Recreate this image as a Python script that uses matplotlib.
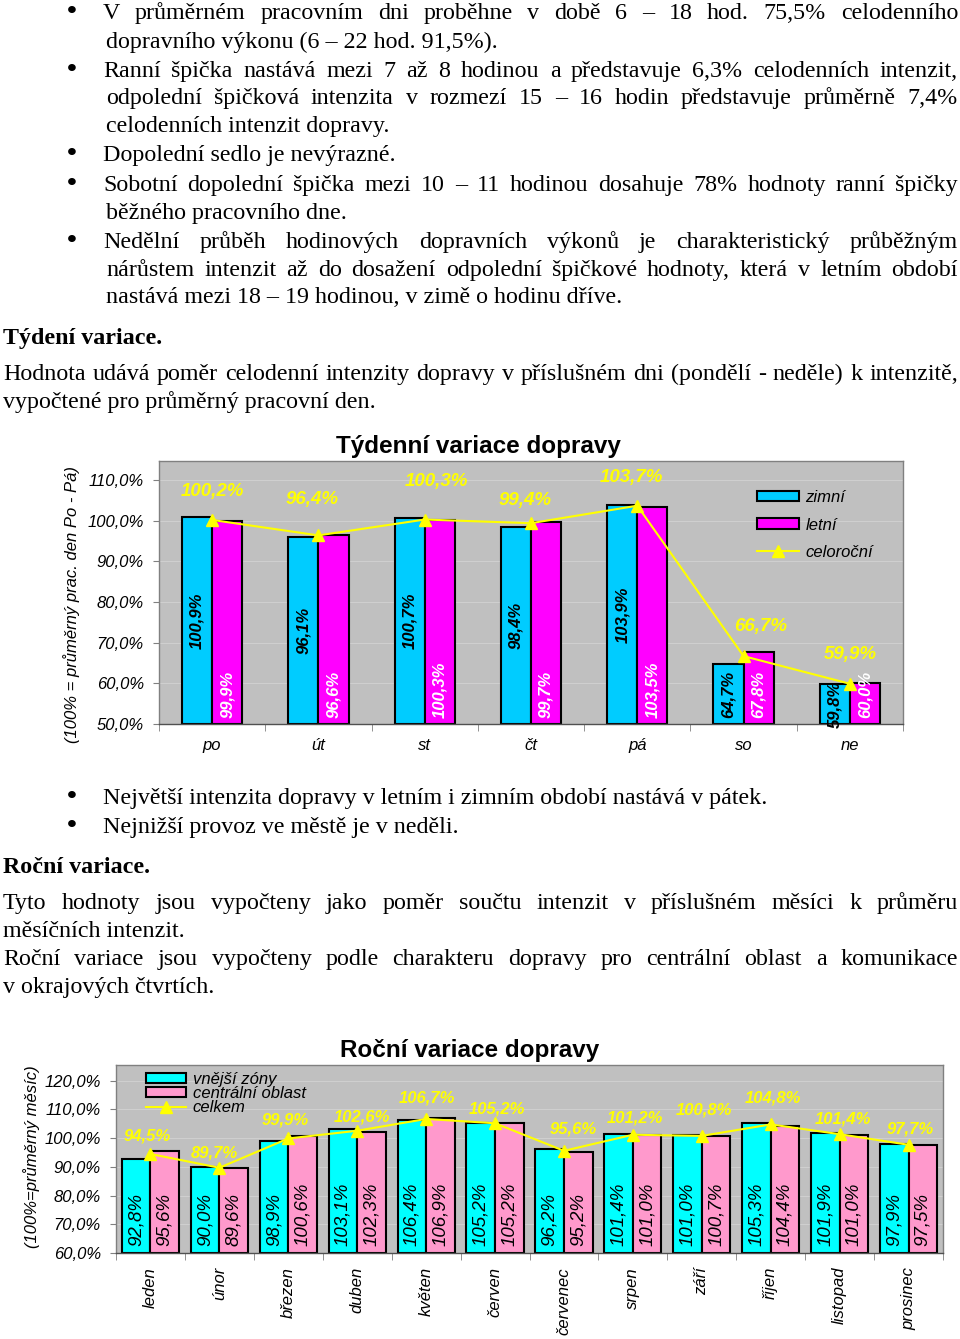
import numpy as np
import matplotlib
matplotlib.use('Agg')
import matplotlib.pyplot as plt
from matplotlib.patches import Patch
from matplotlib.lines import Line2D
from matplotlib.ticker import FuncFormatter, MultipleLocator

W, H = 960, 1339

# tydenni variace
dny = ['po', 'út', 'st', 'čt', 'pá', 'so', 'ne']
zimni = [100.9, 96.1, 100.7, 98.4, 103.9, 64.7, 59.8]
letni = [99.9, 96.6, 100.3, 99.7, 103.5, 67.8, 60.0]
celorocni = [100.2, 96.4, 100.3, 99.4, 103.7, 66.7, 59.9]

# rocni variace
mesice = ['leden', 'únor', 'březen', 'duben', 'květen', 'červen', 'červenec',
          'srpen', 'září', 'říjen', 'listopad', 'prosinec']
vnejsi = [92.8, 90.0, 98.9, 103.1, 106.4, 105.2, 96.2, 101.4, 101.0, 105.3, 101.9, 97.9]
centralni = [95.6, 89.6, 100.6, 102.3, 106.9, 105.2, 95.2, 101.0, 100.7, 104.4, 101.0, 97.5]
celkem = [94.5, 89.7, 99.9, 102.6, 106.7, 105.2, 95.6, 101.2, 100.8, 104.8, 101.4, 97.7]

# posuny popisku (px)
tyd_dx = [0, -6, 12, -6, -6, 17, 0]
tyd_dy = [28, 36, 38, 23, 28, 30, 29]
roc_dx = [-3, -5, -3, 5, 1, 2, 9, 2, 2, 2, 3, 2]
roc_dy = [18, 15, 18, 14, 21, 14, 22, 17, 26, 26, 15, 16]

SERIF = 'Liberation Serif'
SANS = 'Liberation Sans'
BODY = 17.3


def fx(px):
    return px / W


def fy(py):
    return 1 - py / H


def pct(v):
    return ('%.1f%%' % v).replace('.', ',')


fig = plt.figure(figsize=(W / 100, H / 100), dpi=100)
fig.patch.set_facecolor('white')
renderer = fig.canvas.get_renderer()


def radek(s, x0, y, x1=None, bold=False, bullet=False):
    kw = dict(family=SERIF, fontsize=BODY, va='baseline',
              weight='bold' if bold else 'normal')
    if bullet:
        fig.text(fx(72), fy(y), '•', ha='center', family=SERIF, fontsize=BODY + 3,
                 va='baseline', weight='bold')
    if x1 is None:
        fig.text(fx(x0), fy(y), s, ha='left', **kw)
        return
    slova = s.split()
    texty = [fig.text(0, fy(y), w, ha='left', **kw) for w in slova]
    sirky = [t.get_window_extent(renderer=renderer).width for t in texty]
    mezera = (x1 - x0 - sum(sirky)) / (len(slova) - 1)
    x = x0
    for t, w in zip(texty, sirky):
        t.set_x(fx(x))
        x += w + mezera


J = 958
radek('V průměrném pracovním dni proběhne v době 6 – 18 hod. 75,5% celodenního', 103, 19, J, bullet=True)
radek('dopravního výkonu (6 – 22 hod. 91,5%).', 106, 48)
radek('Ranní špička nastává mezi 7 až 8 hodinou a představuje 6,3% celodenních intenzit,', 103, 77, J, bullet=True)
radek('odpolední špičková intenzita v rozmezí 15 – 16 hodin  představuje průměrně 7,4%', 106, 104, J)
radek('celodenních intenzit dopravy.', 106, 132)
radek('Dopolední sedlo je nevýrazné.', 103, 161, bullet=True)
radek('Sobotní dopolední špička mezi 10 – 11 hodinou dosahuje 78% hodnoty ranní špičky', 103, 191, J, bullet=True)
radek('běžného pracovního dne.', 106, 219)
radek('Nedělní průběh hodinových dopravních výkonů je charakteristický průběžným', 103, 248, J, bullet=True)
radek('nárůstem intenzit až do dosažení odpolední špičkové hodnoty, která v letním  období', 106, 276, J)
radek('nastává mezi 18 – 19 hodinou, v zimě o hodinu dříve.', 106, 303)
radek('Týdení variace.', 3, 344, bold=True)
radek('Hodnota udává poměr celodenní intenzity dopravy v příslušném dni (pondělí - neděle) k intenzitě,', 3, 380, J)
radek('vypočtené pro průměrný pracovní den.', 3, 408)

radek('Největší intenzita dopravy v letním i zimním období nastává v pátek.', 103, 804, bullet=True)
radek('Nejnižší provoz ve městě je v neděli.', 103, 833, bullet=True)
radek('Roční variace.', 3, 873, bold=True)
radek('Tyto hodnoty jsou vypočteny jako poměr součtu intenzit v příslušném měsíci k  průměru', 3, 909, J)
radek('měsíčních intenzit.', 3, 937)
radek('Roční variace jsou vypočteny podle charakteru dopravy pro centrální oblast a komunikace', 3, 965, J)
radek('v okrajových čtvrtích.', 3, 993)


def priprav_osu(ax, n, ymin, ymax, pad):
    ax.set_facecolor('#C0C0C0')
    ax.set_xlim(-0.5, n - 0.5)
    ax.set_ylim(ymin, ymax)
    ax.yaxis.set_major_locator(MultipleLocator(10))
    ax.yaxis.set_major_formatter(FuncFormatter(lambda v, _: pct(v)))
    ax.grid(axis='y', color='#CFCFCF', lw=0.8)
    ax.set_axisbelow(True)
    for s in ax.spines.values():
        s.set_color('#808080')
        s.set_linewidth(1.0)
    ax.spines['bottom'].set_color('#505050')
    ax.set_xticks(np.arange(n))
    ax.set_xticks(np.arange(n + 1) - 0.5, minor=True)
    ax.tick_params(axis='x', which='major', length=0, pad=pad)
    ax.tick_params(axis='x', which='minor', length=5, color='#808080')
    ax.tick_params(axis='y', length=4, color='#808080', pad=7)


def styl_y(ax):
    for t in ax.get_yticklabels():
        t.set_family(SANS)
        t.set_style('italic')
        t.set_fontsize(12)


# ---------------- tydenni graf ----------------
ax1 = fig.add_axes([fx(159), fy(724), (903 - 159) / W, (724 - 461) / H])
priprav_osu(ax1, 7, 50, 114.7, 10)
x = np.arange(len(dny))
bw = 0.283
ax1.bar(x - bw / 2, [v - 50 for v in zimni], bw, bottom=50, color='#00CCFF', edgecolor='black', lw=1.5, zorder=2)
ax1.bar(x + bw / 2, [v - 50 for v in letni], bw, bottom=50, color='#FF00FF', edgecolor='black', lw=1.5, zorder=2)
ax1.plot(x, celorocni, color='#FFFF00', lw=1.5, marker='^', ms=9, mec='#FFFF00', zorder=4)
ax1.set_xticklabels(dny, family=SANS, style='italic', fontsize=12)
styl_y(ax1)
for i in range(len(dny)):
    ax1.text(x[i] - bw / 2, (50 + zimni[i]) / 2, pct(zimni[i]), rotation=90, ha='center', va='center',
             family=SANS, style='italic', weight='bold', fontsize=12, color='black', zorder=5)
    ax1.annotate(pct(letni[i]), (x[i] + bw / 2, 50), xytext=(0, 6), textcoords='offset pixels',
                 rotation=90, ha='center', va='bottom', family=SANS, style='italic', weight='bold',
                 fontsize=12, color='white', zorder=5)
    ax1.annotate(pct(celorocni[i]), (x[i], celorocni[i]), xytext=(tyd_dx[i], tyd_dy[i]),
                 textcoords='offset pixels', ha='center', va='center', family=SANS, style='italic',
                 weight='bold', fontsize=13.5, color='#FFFF00', zorder=5)
ax1.legend(handles=[Patch(facecolor='#00CCFF', edgecolor='black', lw=1.5, label='zimní'),
                    Patch(facecolor='#FF00FF', edgecolor='black', lw=1.5, label='letní'),
                    Line2D([], [], color='#FFFF00', lw=1.5, marker='^', ms=9, label='celoroční')],
           loc='upper left', bbox_to_anchor=((757 - 159) / 744, (724 - 490) / 263),
           frameon=False, borderpad=0, borderaxespad=0, handlelength=2.5, handleheight=0.6,
           handletextpad=0.4, labelspacing=0.75, prop=dict(family=SANS, style='italic', size=12))
fig.text(fx(478), fy(447), 'Týdenní variace dopravy', ha='center', va='center',
         family=SANS, weight='bold', fontsize=17.5)
fig.text(fx(72), fy(605), '(100% = průměrný prac. den Po - Pá)', rotation=90, ha='center', va='center',
         family=SANS, style='italic', fontsize=12)

# ---------------- rocni graf ----------------
ax2 = fig.add_axes([fx(116), fy(1253), (943 - 116) / W, (1253 - 1065) / H])
priprav_osu(ax2, 12, 60, 125.5, 10)
x2 = np.arange(len(mesice))
bw2 = 0.415
ax2.bar(x2 - bw2 / 2, [v - 60 for v in vnejsi], bw2, bottom=60, color='#00FFFF', edgecolor='black', lw=1.5, zorder=2)
ax2.bar(x2 + bw2 / 2, [v - 60 for v in centralni], bw2, bottom=60, color='#FF99CC', edgecolor='black', lw=1.5, zorder=2)
ax2.plot(x2, celkem, color='#FFFF00', lw=1.5, marker='^', ms=9, mec='#FFFF00', zorder=4)
ax2.set_xticklabels(mesice, rotation=90, va='top', ha='center', family=SANS, style='italic', fontsize=12)
styl_y(ax2)
for i in range(len(mesice)):
    for xx, v in ((x2[i] - bw2 / 2, vnejsi[i]), (x2[i] + bw2 / 2, centralni[i])):
        ax2.annotate(pct(v), (xx, 60), xytext=(0, 7), textcoords='offset pixels', rotation=90,
                     ha='center', va='bottom', family=SANS, style='italic', fontsize=13.5,
                     color='black', zorder=5)
    ax2.annotate(pct(celkem[i]), (x2[i], celkem[i]), xytext=(roc_dx[i], roc_dy[i]),
                 textcoords='offset pixels', ha='center', va='center', family=SANS, style='italic',
                 weight='bold', fontsize=12, color='#FFFF00', zorder=5)
ax2.legend(handles=[Patch(facecolor='#00FFFF', edgecolor='black', lw=1.5, label='vnější zóny'),
                    Patch(facecolor='#FF99CC', edgecolor='black', lw=1.5, label='centrální oblast'),
                    Line2D([], [], color='#FFFF00', lw=1.5, marker='^', ms=9, label='celkem')],
           loc='upper left', bbox_to_anchor=((146 - 116) / 827, (1253 - 1072) / 188),
           frameon=False, borderpad=0, borderaxespad=0, handlelength=2.4, handleheight=0.55,
           handletextpad=0.4, labelspacing=-0.05, prop=dict(family=SANS, style='italic', size=12))
fig.text(fx(470), fy(1050), 'Roční variace dopravy', ha='center', va='center',
         family=SANS, weight='bold', fontsize=17.5)
fig.text(fx(32), fy(1157), '(100%=průměrný měsíc)', rotation=90, ha='center', va='center',
         family=SANS, style='italic', fontsize=12)

fig.savefig('out.png', dpi=100)
